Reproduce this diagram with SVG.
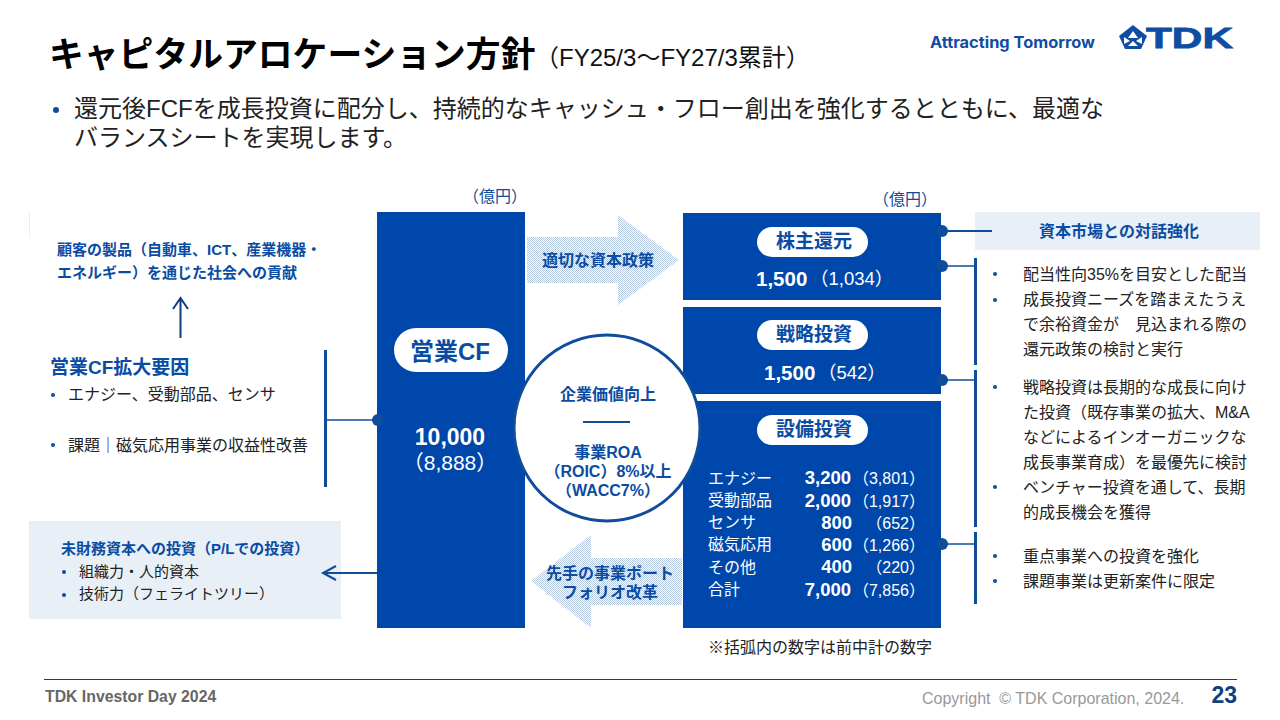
<svg xmlns="http://www.w3.org/2000/svg" width="1280" height="720" viewBox="0 0 1280 720">
<style>
text{font-family:"Liberation Sans","Noto Sans CJK JP",sans-serif;fill:#222}
.b{font-weight:700}
.blue{fill:#0a4ca3;font-weight:700}
.s{font-size:16px}
.m{font-size:15px}
.w{fill:#fff}
.c{text-anchor:middle}
.e{text-anchor:end}
.r{fill:#0047ab}
.ln{stroke:#0f4c9c;fill:none}
.dot{fill:#0f4c9c}
#capex text,#cf text.w,.pv text{fill:#fff}
#capex text.blue{fill:#0a4ca3}
</style>
<defs>
<pattern id="dots" width="2" height="2" patternUnits="userSpaceOnUse"><rect width="2" height="2" fill="#fff"/><rect width="1" height="1" fill="#b4c8e0"/><rect x="1" y="1" width="1" height="1" fill="#b4c8e0"/></pattern>
</defs>
<rect width="1280" height="720" fill="#fff"/>
<rect x="29" y="212" width="1" height="26" fill="#eeeeee"/>
<g id="title">
<text x="49" y="67" font-size="34.800" class="b" style="fill:#000">キャピタルアロケーション方針</text>
<text x="535" y="66" font-size="24" style="fill:#111">（FY25/3～FY27/3累計）</text>
</g>
<g id="logo">
<text x="930" y="48" font-size="15.500" font-weight="700" style="font-family:Inter,sans-serif;fill:#0f4ca3" textLength="165" lengthAdjust="spacingAndGlyphs">Attracting Tomorrow</text>
<polygon points="1133,25 1147,36 1141,49 1125,49 1119,36" fill="#0f4ca3"/>
<polygon points="1133,31 1138,38 1128,38" fill="#fff"/><polygon points="1124,37 1130,41 1124,44" fill="#fff"/><polygon points="1142,37 1136,41 1142,44" fill="#fff"/><polygon points="1133,41 1128,46 1138,46" fill="#fff"/>
<text x="1146" y="48" font-size="30" font-weight="700" textLength="87" lengthAdjust="spacingAndGlyphs" stroke="#0f4ca3" stroke-width=".8" style="fill:#0f4ca3">TDK</text>
</g>
<g id="lead">
<circle cx="56" cy="110" r="3" class="dot"/>
<text x="74" y="117" font-size="24">還元後FCFを成長投資に配分し、持続的なキャッシュ・フロー創出を強化するとともに、最適な</text>
<text x="74" y="146" font-size="24">バランスシートを実現します。</text>
</g>
<g id="unit-left"><text x="463" y="202" class="s" style="fill:#0f4c9c">（億円）</text></g>
<g id="unit-right"><text x="873" y="205" class="s" style="fill:#0f4c9c">（億円）</text></g>
<g id="policy-arrow">
<polygon points="527,237 618,237 618,215 679,260 618,305 618,283 527,283" fill="url(#dots)"/>
<text x="598" y="266" class="blue c s">適切な資本政策</text>
</g>
<g id="reform-arrow">
<polygon points="682,558 591,558 591,535 531,581 591,628 591,605 682,605" fill="url(#dots)"/>
<text x="610" y="579" class="blue c s">先手の事業ポート</text>
<text x="610" y="598" class="blue c s">フォリオ改革</text>
</g>
<g id="cf">
<rect x="377" y="212" width="148" height="416" class="r"/>
<rect x="394" y="328" width="114" height="44" rx="22" fill="#fff"/>
<text x="450" y="360" font-size="24" class="blue c">営業CF</text>
<text x="450" y="445" font-size="23" class="b c w">10,000</text>
<text x="450" y="470" font-size="21" class="c w">（8,888）</text>
</g>
<g id="shareholder" class="pv">
<rect x="683" y="213" width="258" height="87" class="r"/>
<rect x="757" y="227" width="111" height="30" rx="15" fill="#fff"/>
<text x="814" y="248" font-size="19" class="blue c" style="fill:#0a4ca3">株主還元</text>
<text x="756" y="286" font-size="20.500" class="b">1,500</text>
<text x="810" y="285" font-size="18.500">（1,034）</text>
</g>
<g id="strategic" class="pv">
<rect x="683" y="307" width="258" height="87" class="r"/>
<rect x="757" y="320" width="111" height="30" rx="15" fill="#fff"/>
<text x="814" y="341" font-size="19" class="blue c" style="fill:#0a4ca3">戦略投資</text>
<text x="764" y="380" font-size="20.500" class="b">1,500</text>
<text x="818" y="379" font-size="18.500">（542）</text>
</g>
<g id="capex">
<rect x="683" y="401" width="258" height="227" class="r"/>
<rect x="757" y="415" width="111" height="30" rx="15" fill="#fff"/>
<text x="814" y="436" font-size="19" class="blue c">設備投資</text>
<g font-size="16">
<text x="708" y="484">エナジー</text><text x="708" y="506">受動部品</text><text x="708" y="528">センサ</text><text x="708" y="550">磁気応用</text><text x="708" y="573">その他</text><text x="708" y="595">合計</text>
</g>
<g font-size="18.500">
<text x="851" y="484" class="e b">3,200</text><text x="851" y="507" class="e b">2,000</text><text x="852" y="529" class="e b">800</text><text x="852" y="551" class="e b">600</text><text x="852" y="573" class="e b">400</text><text x="851" y="596" class="e b">7,000</text>
</g>
<g font-size="16">
<text x="925" y="484" class="e">（3,801）</text><text x="925" y="507" class="e">（1,917）</text><text x="925" y="529" class="e">（652）</text><text x="925" y="551" class="e">（1,266）</text><text x="925" y="573" class="e">（220）</text><text x="925" y="596" class="e">（7,856）</text>
</g>
</g>
<g id="value">
<circle cx="607" cy="428" r="93" fill="#fff" stroke="#0f4c9c" stroke-width="3"/>
<text x="608" y="400" class="blue c s">企業価値向上</text>
<line x1="583" y1="422" x2="630" y2="422" stroke="#0f4c9c" stroke-width="2"/>
<text x="608" y="458" class="blue c s">事業ROA</text>
<text x="608" y="477" class="blue c s">（ROIC）8%以上</text>
<text x="608" y="496" class="blue c s">（WACC7%）</text>
</g>
<g id="note"><text x="708" y="653" class="s">※括弧内の数字は前中計の数字</text></g>
<g id="dialogue">
<rect x="975" y="212" width="285" height="38" fill="#e8eff6"/>
<text x="1119" y="237" class="blue c s">資本市場との対話強化</text>
</g>
<g id="right-notes" font-size="16">
<circle cx="995" cy="274" r="2" class="dot"/><text x="1023" y="280">配当性向35%を目安とした配当</text>
<circle cx="995" cy="300" r="2" class="dot"/><text x="1023" y="305">成長投資ニーズを踏まえたうえ</text>
<text x="1023" y="330">で余裕資金が　見込まれる際の</text>
<text x="1023" y="355">還元政策の検討と実行</text>
<circle cx="995" cy="387" r="2" class="dot"/><text x="1023" y="393">戦略投資は長期的な成長に向け</text>
<text x="1023" y="418">た投資（既存事業の拡大、M&amp;A</text>
<text x="1023" y="443">などによるインオーガニックな</text>
<text x="1023" y="468">成長事業育成）を最優先に検討</text>
<circle cx="995" cy="487" r="2" class="dot"/><text x="1023" y="493">ベンチャー投資を通して、長期</text>
<text x="1023" y="518">的成長機会を獲得</text>
<circle cx="995" cy="556" r="2" class="dot"/><text x="1023" y="562">重点事業への投資を強化</text>
<circle cx="995" cy="581" r="2" class="dot"/><text x="1023" y="587">課題事業は更新案件に限定</text>
</g>
<g id="customer">
<text x="57" y="255" class="blue m">顧客の製品（自動車、ICT、産業機器・</text>
<text x="57" y="278" class="blue m">エネルギー）を通じた社会への貢献</text>
</g>
<g id="drivers">
<text x="50" y="374" font-size="19" class="blue">営業CF拡大要因</text>
<circle cx="53" cy="395" r="2" class="dot"/><text x="68" y="400" class="s">エナジー、受動部品、センサ</text>
<circle cx="53" cy="445" r="2" class="dot"/><text x="68" y="451" class="s">課題｜磁気応用事業の収益性改善</text>
</g>
<g id="nonfin">
<rect x="29" y="521" width="312" height="98" fill="#e8eff6"/>
<text x="61" y="554" class="blue m">未財務資本への投資（P/Lでの投資）</text>
<circle cx="64" cy="572" r="2" class="dot"/><text x="79" y="577" class="m">組織力・人的資本</text>
<circle cx="64" cy="595" r="2" class="dot"/><text x="79" y="599" class="m">技術力（フェライトツリー）</text>
</g>
<g id="connectors">
<line class="ln" x1="942" y1="231" x2="992" y2="231" stroke-width="2"/>
<circle cx="942" cy="231" r="6" class="dot"/>
<line class="ln" x1="942" y1="266" x2="975" y2="266" stroke-width="1.500"/>
<circle cx="942" cy="266" r="6" class="dot"/>
<line class="ln" x1="975.500" y1="258" x2="975.500" y2="365" stroke-width="3"/>
<line class="ln" x1="942" y1="380" x2="975" y2="380" stroke-width="1.500"/>
<circle cx="942" cy="380" r="6" class="dot"/>
<line class="ln" x1="975.500" y1="370" x2="975.500" y2="527" stroke-width="3"/>
<line class="ln" x1="942" y1="544" x2="975" y2="544" stroke-width="1.500"/>
<circle cx="942" cy="544" r="6" class="dot"/>
<line class="ln" x1="975.500" y1="532" x2="975.500" y2="604" stroke-width="3"/>
<line class="ln" x1="325.500" y1="350" x2="325.500" y2="487" stroke-width="3"/>
<line class="ln" x1="326" y1="420" x2="378" y2="420" stroke-width="1.500"/>
<circle cx="378" cy="420" r="6" class="dot"/>
<path class="ln" stroke-width="2" d="M377 573H323M336 566L323 573L336 580"/>
<path stroke="#0f3f7f" fill="none" stroke-width="2" d="M180.500 338V298M173 309L180.500 298L188 309"/>
</g>
<g id="footer">
<line x1="44" y1="679.500" x2="1237" y2="679.500" stroke="#0f3f7f" stroke-width="1"/>
<text x="45" y="702" class="b" style="fill:#666;font-size:15.800px">TDK Investor Day 2024</text>
<text x="922" y="704" font-size="16" style="fill:#999" xml:space="preserve">Copyright  © TDK Corporation, 2024.</text>
<text x="1237" y="703" font-size="23" class="blue e" style="fill:#0f4080">23</text>
</g>
</svg>
